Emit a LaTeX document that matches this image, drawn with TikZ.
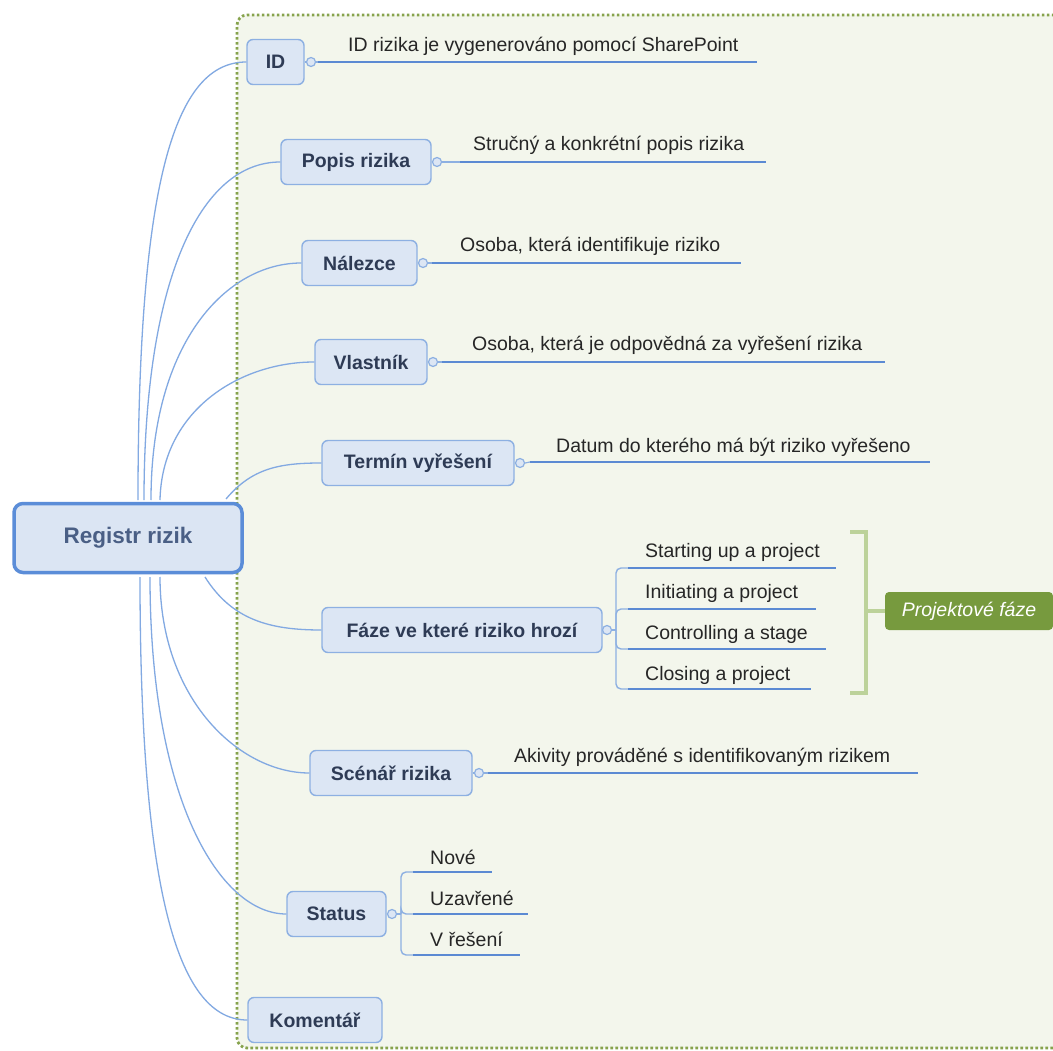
\documentclass[tikz,border=0pt]{standalone}
\usepackage{fontspec}
\setmainfont{Liberation Sans}
\definecolor{panelbg}{HTML}{F3F6EC}
\definecolor{paneldot}{HTML}{86A34C}
\definecolor{rootline}{HTML}{5B8DD8}
\definecolor{rootfill}{HTML}{DBE5F3}
\definecolor{roottext}{HTML}{4A5F85}
\definecolor{boxline}{HTML}{8DB0E2}
\definecolor{boxfill}{HTML}{DCE6F4}
\definecolor{boxtext}{HTML}{2E3B55}
\definecolor{leafline}{HTML}{5B8AD3}
\definecolor{curveline}{HTML}{82A9E2}
\definecolor{bracketgreen}{HTML}{BCD29A}
\definecolor{tagfill}{HTML}{779A3E}
\tikzset{
  x=1pt, y=-1pt,
  rootbox/.style={draw=rootline, fill=rootfill, line width=3.5pt, rounded corners=9pt,
    minimum width=228pt, minimum height=69pt, text=roottext, font=\fontsize{22.5}{26}\selectfont\bfseries},
  topic/.style={draw=boxline, fill=boxfill, line width=1.4pt, rounded corners=6pt,
    minimum height=45pt, text=boxtext, font=\fontsize{19.5}{23}\selectfont\bfseries, inner sep=0pt},
  knob/.style={circle, draw=boxline, fill=boxfill, line width=1.2pt, minimum size=9pt, inner sep=0pt},
  leaf/.style={font=\fontsize{19.5}{23}\selectfont, text=black!85, inner sep=0pt, anchor=base west},
  leafrule/.style={draw=leafline, line width=2.5pt},
  stem/.style={draw=boxline, line width=1.4pt, rounded corners=5pt},
  branch/.style={draw=curveline, line width=1.3pt},
  dotrule/.style={draw=paneldot, line width=2.8pt, dash pattern=on 2.6pt off 2.4pt},
}
\begin{document}
\begin{tikzpicture}
\useasboundingbox (0,0) rectangle (1053,1051);
\fill[white] (0,0) rectangle (1053,1051);

% shaded panel behind the topics
\fill[panelbg, rounded corners=10pt] (237,1048) -- (237,15) -- (1065,15) -- (1065,1048) -- cycle;
\draw[dotrule, rounded corners=10pt] (1053,1048) -- (237,1048) -- (237,15) -- (1053,15);

% root
\node[rootbox] (reg) at (128,538) {Registr rizik};

% topics
\node[topic, minimum width=57pt]  (id)   at (275.5,62)  {ID};
\node[topic, minimum width=150pt] (pop)  at (356,162)   {Popis rizika};
\node[topic, minimum width=115pt] (nal)  at (359.5,263) {Nálezce};
\node[topic, minimum width=112pt] (vla)  at (371,362)   {Vlastník};
\node[topic, minimum width=192pt] (ter)  at (418,463)   {Termín vyřešení};
\node[topic, minimum width=280pt] (faz)  at (462,630)   {Fáze ve které riziko hrozí};
\node[topic, minimum width=162pt] (sce)  at (391,773)   {Scénář rizika};
\node[topic, minimum width=99pt]  (sta)  at (336.5,914) {Status};
\node[topic, minimum width=134pt] (kom)  at (315,1020)  {Komentář};

% curved links from the root
\coordinate (s1) at (138,500);
\coordinate (s2) at (144,500);
\coordinate (s3) at (151,500);
\coordinate (s4) at (160,500);
\coordinate (s5) at (226,499);
\coordinate (s6) at (205,577);
\coordinate (s7) at (160,577);
\coordinate (s8) at (150,577);
\coordinate (s9) at (140,577);
\draw[branch] (s1) .. controls (138,180) and (175,62) .. (id.west);
\draw[branch] (s2) .. controls (144,280) and (200,162) .. (pop.west);
\draw[branch] (s3) .. controls (151,340) and (228,263) .. (nal.west);
\draw[branch] (s4) .. controls (162,410) and (240,362) .. (vla.west);
\draw[branch] (s5) .. controls (252,468) and (280,463) .. (ter.west);
\draw[branch] (s6) .. controls (232,620) and (270,630) .. (faz.west);
\draw[branch] (s7) .. controls (160,700) and (240,773) .. (sce.west);
\draw[branch] (s8) .. controls (150,800) and (220,914) .. (sta.west);
\draw[branch] (s9) .. controls (140,900) and (180,1020) .. (kom.west);

% knobs
\node[knob] (idk)  at (311,62)  {};
\node[knob] (popk) at (437,162) {};
\node[knob] (nalk) at (423,263) {};
\node[knob] (vlak) at (433,362) {};
\node[knob] (terk) at (520,463) {};
\node[knob] (fazk) at (607,630) {};
\node[knob] (scek) at (479,773) {};
\node[knob] (stak) at (392,914) {};
\foreach \t/\k in {id/idk,pop/popk,nal/nalk,vla/vlak,ter/terk,faz/fazk,sce/scek,sta/stak}
  \draw[boxline, line width=1.2pt] (\t.east) -- (\k.west);

% single leaves
\coordinate (idl)  at (757,62);
\coordinate (popl) at (766,162);
\coordinate (nall) at (741,263);
\coordinate (vlal) at (885,362);
\coordinate (terl) at (930,462);
\coordinate (scel) at (918,773);
\draw[boxline, line width=1.2pt] (idk.east) -- (318,62);
\draw[boxline, line width=1.2pt] (popk.east) -- (460,162);
\draw[boxline, line width=1.2pt] (nalk.east) -- (432,263);
\draw[boxline, line width=1.2pt] (vlak.east) -- (442,362);
\draw[boxline, line width=1.2pt] (terk.east) -- (530,462);
\draw[boxline, line width=1.2pt] (scek.east) -- (488,773);
\draw[leafrule] (318,62) -- (idl);
\draw[leafrule] (460,162) -- (popl);
\draw[leafrule] (432,263) -- (nall);
\draw[leafrule] (442,362) -- (vlal);
\draw[leafrule] (530,462) -- (terl);
\draw[leafrule] (488,773) -- (scel);
\node[leaf] (idt)  at (348,52)  {ID rizika je vygenerováno pomocí SharePoint};
\node[leaf] (popt) at (473,151) {Stručný a  konkrétní popis rizika};
\node[leaf] (nalt) at (460,252) {Osoba, která identifikuje riziko};
\node[leaf] (vlat) at (472,351) {Osoba, která je odpovědná za vyřešení  rizika};
\node[leaf] (tert) at (556,452) {Datum do kterého má být riziko vyřešeno};
\node[leaf] (scet) at (514,762) {Akivity prováděné s identifikovaným rizikem};

% phases
\coordinate (fj) at (616,630);
\draw[boxline, line width=1.2pt] (fazk.east) -- (fj);
\foreach \y/\e/\n in {568/836/f1, 609/816/f2, 649/826/f3, 689/811/f4}{
  \draw[stem] (fj) |- (630,\y);
  \draw[leafrule] (628,\y) -- (\e,\y) coordinate (\n);
}
\node[leaf] (f1t) at (645,557) {Starting up a project};
\node[leaf] (f2t) at (645,598) {Initiating a project};
\node[leaf] (f3t) at (645,639) {Controlling a stage};
\node[leaf] (f4t) at (645,680) {Closing a project};

% bracket around the phases and its tag
\coordinate (bt) at (850,532);
\coordinate (bb) at (850,693);
\draw[bracketgreen, line width=4pt] (bt) -- (866,532) -- (866,693) -- (bb);
\node[fill=tagfill, rounded corners=4pt, minimum width=168pt, minimum height=38pt, inner sep=0pt,
  text=white, font=\fontsize{19.5}{23}\selectfont\itshape] (tag) at (969,611) {Projektové fáze};
\draw[bracketgreen, line width=4pt] (866,611) -- (tag.west);

% status values
\coordinate (sj) at (401,914);
\draw[boxline, line width=1.2pt] (stak.east) -- (sj);
\foreach \y/\e/\n in {872/492/v1, 914/528/v2, 955/520/v3}{
  \draw[stem] (sj) |- (415,\y);
  \draw[leafrule] (413,\y) -- (\e,\y) coordinate (\n);
}
\node[leaf] (v1t) at (430,864) {Nové};
\node[leaf] (v2t) at (430,905) {Uzavřené};
\node[leaf] (v3t) at (430,946) {V řešení};
\end{tikzpicture}
\end{document}
